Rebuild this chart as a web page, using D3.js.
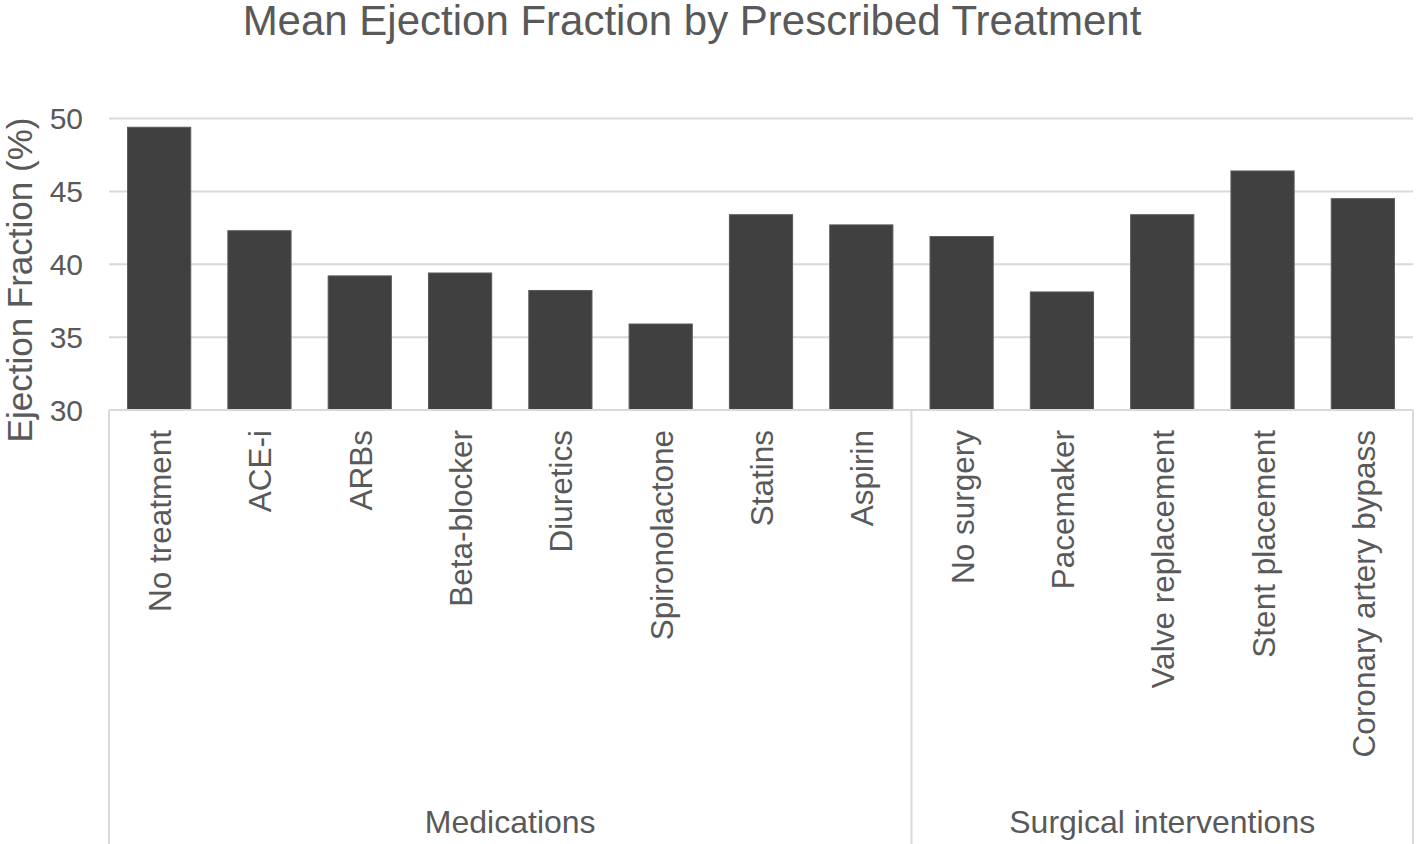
<!DOCTYPE html>
<html>
<head>
<meta charset="utf-8">
<script src="https://cdn.jsdelivr.net/npm/d3@7"></script>
<style>
body { margin: 0; background: #fff; }
text { font-family: "Liberation Sans", Arial, sans-serif; fill: #595959; }
</style>
</head>
<body>
<div id="plot"></div>
<script>
var width = 1416, height = 844;
var plotLeft = 109, plotRight = 1413, plotTop = 118.5, plotBottom = 410;

var treatments = ['No treatment', 'ACE-i', 'ARBs', 'Beta-blocker', 'Diuretics', 'Spironolactone', 'Statins', 'Aspirin',
	'No surgery', 'Pacemaker', 'Valve replacement', 'Stent placement', 'Coronary artery bypass'];
var ejection = [49.4, 42.3, 39.2, 39.4, 38.2, 35.9, 43.4, 42.7, 41.9, 38.1, 43.4, 46.4, 44.5];
var groupNames = ['Medications', 'Surgical interventions'];
var groupSizes = [8, 5];
var yTicks = [30, 35, 40, 45, 50];

svg = d3.select('#plot').append('svg')
	.attr('width', width)
	.attr('height', height)

var x = d3.scaleBand().domain(treatments).range([plotLeft, plotRight]).paddingInner(0.37).paddingOuter(0.185)
var y = d3.scaleLinear().domain([30, 50]).range([plotBottom, plotTop])

// gridlines
svg.selectAll('.grid').data(yTicks.slice(1)).enter().append('line')
	.attr('x1', plotLeft).attr('x2', plotRight)
	.attr('y1', function(d){ return y(d) }).attr('y2', function(d){ return y(d) })
	.attr('stroke', '#d9d9d9').attr('stroke-width', 2)

// y tick labels
svg.selectAll('.ytick').data(yTicks).enter().append('text')
	.attr('x', 83).attr('y', function(d){ return y(d) })
	.attr('dy', '0.35em')
	.attr('text-anchor', 'end')
	.style('font-size', '30px')
	.text(function(d){ return d })

// bars
svg.selectAll('.bar').data(treatments).enter().append('rect')
	.attr('x', function(d){ return x(d) })
	.attr('width', x.bandwidth())
	.attr('y', function(d, i){ return y(ejection[i]) })
	.attr('height', function(d, i){ return y(30) - y(ejection[i]) })
	.attr('fill', '#404040')
	.attr('stroke', '#5a5a5a').attr('stroke-width', 1)

// baseline
svg.append('line').attr('x1', plotLeft).attr('x2', plotRight).attr('y1', plotBottom).attr('y2', plotBottom)
	.attr('stroke', '#d9d9d9').attr('stroke-width', 2)

// category labels
svg.selectAll('.cat').data(treatments).enter().append('text')
	.attr('transform', function(d){ return 'translate(' + (x(d) + x.bandwidth() / 2 + 1) + ',430) rotate(-90)' })
	.attr('dy', '0.35em')
	.attr('text-anchor', 'end')
	.style('font-size', '31.5px')
	.text(function(d){ return d })

// group separators and labels
var step = x.step()
var start = 0
var edges = [plotLeft]
for (i in groupSizes){
	var end = start + groupSizes[i]
	var x0 = plotLeft + start * step
	var x1 = plotLeft + end * step
	edges.push(x1)
	svg.append('text')
		.attr('x', (x0 + x1) / 2).attr('y', 833)
		.attr('text-anchor', 'middle')
		.style('font-size', '32px')
		.text(groupNames[i])
	start = end
}
svg.selectAll('.sep').data(edges).enter().append('line')
	.attr('x1', function(d){ return d }).attr('x2', function(d){ return d })
	.attr('y1', plotBottom).attr('y2', height)
	.attr('stroke', '#d9d9d9').attr('stroke-width', 2)

// axis title
svg.append('text')
	.attr('transform', 'translate(32,280) rotate(-90)')
	.attr('text-anchor', 'middle')
	.style('font-size', '35px')
	.text('Ejection Fraction (%)')

// chart title
svg.append('text')
	.attr('x', 692).attr('y', 35)
	.attr('text-anchor', 'middle')
	.style('font-size', '42px')
	.text('Mean Ejection Fraction by Prescribed Treatment')
</script>
</body>
</html>
